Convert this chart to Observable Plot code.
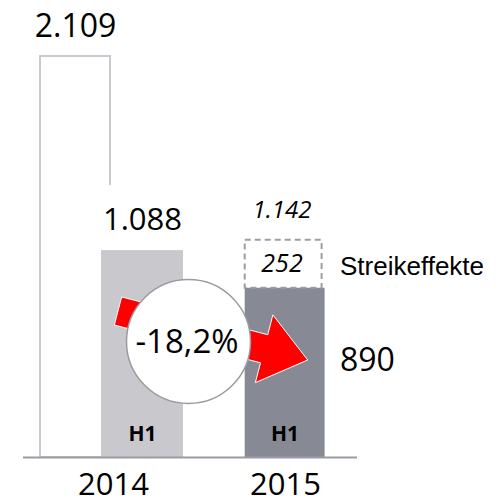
<!DOCTYPE html>
<html>
<head>
<meta charset="utf-8">
<script src="https://cdn.jsdelivr.net/npm/d3@7"></script>
<script src="https://cdn.jsdelivr.net/npm/@observablehq/plot@0.6"></script>
<style>
  html, body { margin: 0; padding: 0; background: #fff; }
  svg { display: block; }
</style>
</head>
<body>
<div id="chart"></div>
<script>
// ---- data ----
const years = ["2014", "2015"];
const fullYearValue = [2109];          // full year 2014
const firstHalfValues = [1088, 890];   // H1 2014, H1 2015
const strikeEffectValues = [252];      // strike effects 2015
const halfLabel = "H1";
const strikeLabel = "Streikeffekte";

// ---- formatting (German) ----
const de = d3.formatLocale({decimal: ",", thousands: ".", grouping: [3], currency: ["", " €"], minus: "-"});
const fmtNum = de.format(",");
const fmtPct = de.format(".1%");

// ---- tables ----
const fyData = [{year: years[0], value: fullYearValue[0]}];
const h1Data = years.map((y, i) => ({year: y, value: firstHalfValues[i]}));
const h1_2014 = [h1Data[0]];
const h1_2015 = [h1Data[1]];
const strikeData = [{year: years[1], base: firstHalfValues[1], effect: strikeEffectValues[0], top: firstHalfValues[1] + strikeEffectValues[0]}];
const change = (firstHalfValues[1] - firstHalfValues[0]) / firstHalfValues[0];
const changeData = [{year: years[0], value: 0, label: fmtPct(change)}];

// ---- colours ----
const cOutline = "#c9cacf";
const cH1_2014 = "#c8c8cd";
const cH1_2015 = "#878a94";
const cDash = "#9c9ea6";
const cBase = "#9a9ca4";
const cArrow = "#ff0000";

// Red block arrow, computed from scale positions
function arrowMark(index, scales, values, dims) {
  const x = scales.x, y = scales.y;
  const T = [x(years[0]) + 78, y(0) - 146];
  const P = [x(years[1]) + 95.7, y(0) - 97];
  const dx = P[0] - T[0], dy = P[1] - T[1];
  const L = Math.hypot(dx, dy);
  const u = [dx / L, dy / L];
  const n = [-u[1], u[0]];
  const headLen = 45, sh = 14.5, hh = 35;
  const J = [T[0] + u[0] * (L - headLen), T[1] + u[1] * (L - headLen)];
  const pt = (b, k) => [b[0] + n[0] * k, b[1] + n[1] * k];
  const pts = [pt(T, sh), pt(J, sh), pt(J, hh), P, pt(J, -hh), pt(J, -sh), pt(T, -sh)];
  const g = d3.create("svg:g");
  g.append("path")
    .attr("d", d3.line()(pts) + "Z")
    .attr("fill", cArrow)
    .attr("stroke", "white")
    .attr("stroke-width", 1);
  return g.node();
}

const chart = Plot.plot({
  width: 499,
  height: 504,
  marginLeft: 23,
  marginRight: 142,
  marginTop: 0,
  marginBottom: 47,
  style: {fontFamily: "'Open Sans', sans-serif", background: "white", color: "#000"},
  x: {type: "band", domain: years, range: [40, 355.5], paddingInner: 0.169, paddingOuter: 0, align: 0.5, axis: null},
  y: {domain: [0, d3.max(fullYearValue)], range: [457, 56], axis: null},
  marks: [
    // full-year 2014 outline bar
    Plot.barY(fyData, {x: "year", y: "value", fill: "white", stroke: cOutline, strokeWidth: 2, insetRight: 73}),
    // white area behind the 1.088 label
    Plot.barY(h1_2014, {x: "year", y1: "value", y2: "value", fill: "white", insetLeft: 61, insetTop: -65}),
    // H1 bars
    Plot.barY(h1_2014, {x: "year", y: "value", fill: cH1_2014, insetLeft: 61}),
    Plot.barY(h1_2015, {x: "year", y: "value", fill: cH1_2015, insetLeft: 32.7, insetRight: 30.4}),
    // strike effect dashed box
    Plot.barY(strikeData, {x: "year", y1: "base", y2: "top", fill: "none", stroke: cDash, strokeWidth: 2, strokeDasharray: "6,4", insetLeft: 32.7, insetRight: 33.4}),
    // baseline
    Plot.ruleY([0], {stroke: cBase, strokeWidth: 2}),
    // arrow
    arrowMark,
    // circle
    Plot.dot(changeData, {x: "year", y: "value", r: 62, dx: 76.5, dy: -116, fill: "white", stroke: cBase, strokeWidth: 1.5}),
    Plot.text(changeData, {x: "year", y: "value", text: "label", dx: 75, dy: -105, lineAnchor: "bottom", fontSize: 33, fill: "#000"}),
    // value labels
    Plot.text(fyData, {x: "year", y: "value", text: d => fmtNum(d.value), dx: -36.5, dy: -20, lineAnchor: "bottom", fontSize: 32, fill: "#000"}),
    Plot.text(h1_2014, {x: "year", y: "value", text: d => fmtNum(d.value), dx: 30.5, dy: -21, lineAnchor: "bottom", fontSize: 31, fill: "#000"}),
    Plot.text(strikeData, {x: "year", y: "top", text: d => fmtNum(d.top), dx: -2, dy: -22, lineAnchor: "bottom", fontSize: 24, fontStyle: "italic", fill: "#000"}),
    Plot.text(strikeData, {x: "year", y: d => d.base + d.effect / 2, text: d => fmtNum(d.effect), dx: -2, dy: 0, lineAnchor: "middle", fontSize: 25, fontStyle: "italic", fill: "#000"}),
    Plot.text(strikeData, {x: "year", y: d => d.base + d.effect / 2, text: () => strikeLabel, dx: 56, dy: 2, textAnchor: "start", lineAnchor: "middle", fontSize: 26, fontFamily: "'Liberation Sans', Arial, sans-serif", fill: "#000"}),
    Plot.text(h1_2015, {x: "year", y: () => 0, text: d => fmtNum(d.value), dx: 56, dy: -87, textAnchor: "start", lineAnchor: "bottom", fontSize: 32, fill: "#000"}),
    // H1 labels
    Plot.text(h1_2014, {x: "year", y: () => 0, text: () => halfLabel, dx: 30.5, dy: -17, lineAnchor: "bottom", fontSize: 21, fontWeight: "bold", fill: "#000"}),
    Plot.text(h1_2015, {x: "year", y: () => 0, text: () => halfLabel, dx: 1, dy: -17, lineAnchor: "bottom", fontSize: 21, fontWeight: "bold", fill: "#000"}),
    // year labels
    Plot.text(years, {x: d => d, y: () => 0, text: d => d, dx: 1.5, dy: 37, lineAnchor: "bottom", fontSize: 31, fill: "#000"})
  ]
});

document.getElementById("chart").appendChild(chart);
</script>
</body>
</html>
